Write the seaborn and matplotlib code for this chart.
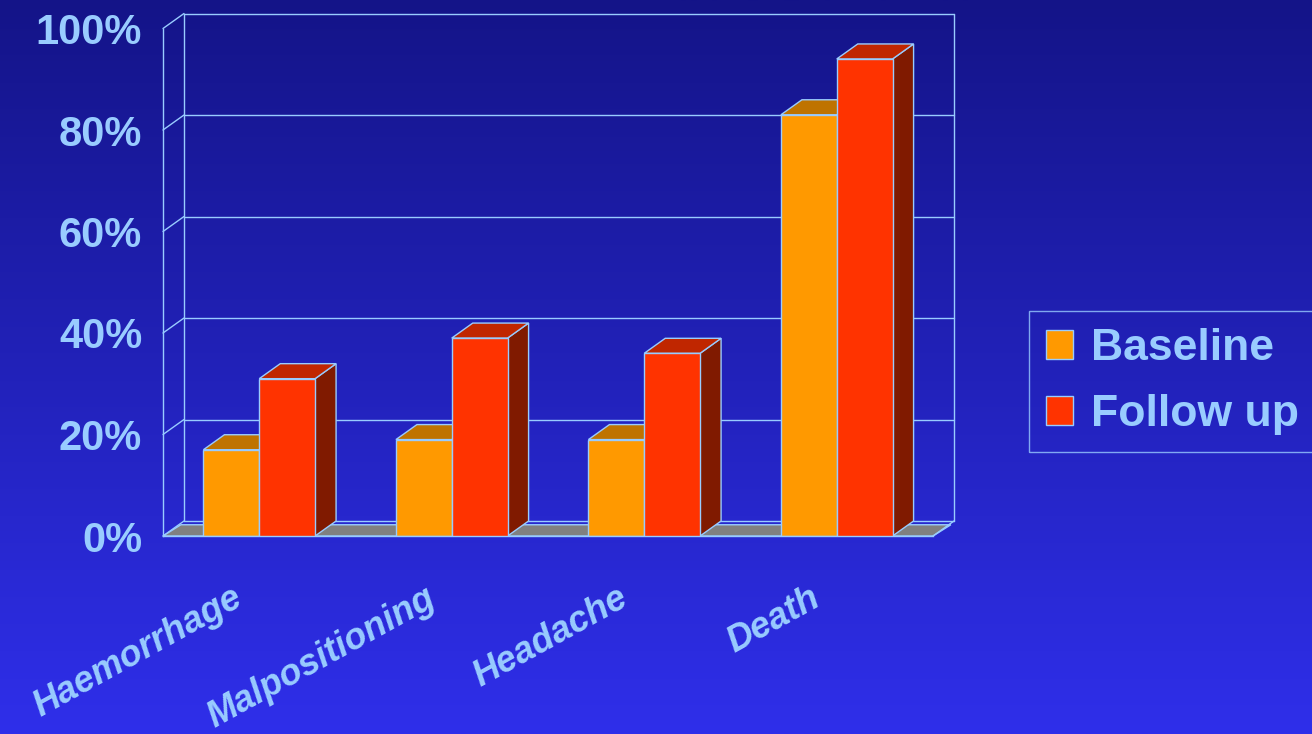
import numpy as np
import pandas as pd
import matplotlib
matplotlib.use("Agg")
import matplotlib.pyplot as plt
import matplotlib.transforms as mtransforms
from matplotlib.patches import Polygon
from matplotlib.colors import LinearSegmentedColormap
import seaborn as sns

# ---- data ----
categories = ["Haemorrhage", "Malpositioning", "Headache", "Death"]
series_names = ["Baseline", "Follow up"]
baseline = [17, 19, 19, 83]
follow_up = [31, 39, 36, 94]
y_ticks = [0, 20, 40, 60, 80, 100]
y_tick_labels = ["0%", "20%", "40%", "60%", "80%", "100%"]

# ---- style ----
sns.set_theme(style="white")
plt.rcParams["font.family"] = ["Liberation Sans", "DejaVu Sans"]
TXT = "#99CCFF"
EDGE = "#99CCFF"
front_cols = ["#FF9900", "#FF3300"]
top_cols = ["#BF7300", "#C02600"]
side_cols = ["#804D00", "#801A00"]

W, H, DPI = 1312, 734, 100
fig = plt.figure(figsize=(W / DPI, H / DPI), dpi=DPI)

# gradient background
bg = fig.add_axes([0, 0, 1, 1], zorder=-10)
cmap = LinearSegmentedColormap.from_list("bg", ["#141488", "#2F2FEA"])
grad = np.linspace(0, 1, 256).reshape(-1, 1)
bg.imshow(grad, aspect="auto", cmap=cmap, extent=[0, 1, 0, 1], origin="upper")
bg.set_axis_off()

# main axes (front plane)
L, R, T, B = 163, 933, 28.5, 536
ax = fig.add_axes([L / W, 1 - B / H, (R - L) / W, (B - T) / H])
ax.set_facecolor("none")

df = pd.DataFrame({
    "category": categories * 2,
    "value": baseline + follow_up,
    "series": [series_names[0]] * len(categories) + [series_names[1]] * len(categories),
})
sns.barplot(data=df, x="category", y="value", hue="series", hue_order=series_names,
            palette=front_cols, width=0.58, edgecolor=EDGE, linewidth=1.0,
            saturation=1, ax=ax, zorder=2)

ax.set_xlim(-0.5, len(categories) - 0.5)
ax.set_ylim(0, 100)

# depth offset in pixels -> data units
dxp, dyp = 21, 15
ax_w_px = R - L
ax_h_px = B - T
dx = dxp * (len(categories)) / ax_w_px
dy = dyp * 100 / ax_h_px

bars = [p for p in ax.patches if p.get_height() > 0]
n = len(categories)
for i, p in enumerate(bars):
    s = 0 if i < n else 1
    x0 = p.get_x()
    w = p.get_width()
    h = p.get_height()
    z = 2 + s
    p.set_zorder(z + 0.1)
    top = Polygon([[x0, h], [x0 + w, h], [x0 + w + dx, h + dy], [x0 + dx, h + dy]],
                  closed=True, facecolor=top_cols[s], edgecolor=EDGE, lw=1.0, zorder=z)
    side = Polygon([[x0 + w, 0], [x0 + w + dx, dy], [x0 + w + dx, h + dy], [x0 + w, h]],
                   closed=True, facecolor=side_cols[s], edgecolor=EDGE, lw=1.0, zorder=z)
    ax.add_patch(side)
    ax.add_patch(top)

x_l, x_r = -0.5, n - 0.5
# floor
floor = Polygon([[x_l, 0], [x_r, 0], [x_r + dx * 0.85, dy * 0.75], [x_l + dx * 0.85, dy * 0.75]],
                closed=True, facecolor="#808080", edgecolor=EDGE, lw=1.0, zorder=1, clip_on=False)
ax.add_patch(floor)

# back wall gridlines and left wall diagonals
for yv in y_ticks:
    ax.plot([x_l + dx, x_r + dx], [yv + dy, yv + dy], color=EDGE, lw=1.0, zorder=0.5, clip_on=False)
    ax.plot([x_l, x_l + dx], [yv, yv + dy], color=EDGE, lw=1.0, zorder=0.5, clip_on=False)
ax.plot([x_l + dx, x_l + dx], [dy, 100 + dy], color=EDGE, lw=1.0, zorder=0.5, clip_on=False)
ax.plot([x_r + dx, x_r + dx], [dy, 100 + dy], color=EDGE, lw=1.0, zorder=0.5, clip_on=False)
ax.plot([x_r, x_r + dx], [0, dy], color=EDGE, lw=1.0, zorder=1.2, clip_on=False)

# spines
for k in ["top", "right"]:
    ax.spines[k].set_visible(False)
for k in ["left", "bottom"]:
    ax.spines[k].set_color(EDGE)
    ax.spines[k].set_linewidth(1.0)

ax.set_yticks(y_ticks)
ax.set_yticklabels(y_tick_labels)
ax.tick_params(axis="y", direction="out", length=8, width=1, color=EDGE, pad=7,
               labelsize=30, labelcolor=TXT)
for lab in ax.get_yticklabels():
    lab.set_fontweight("bold")

ax.set_xticks(np.arange(n + 1) - 0.5)
ax.set_xticklabels([])
ax.tick_params(axis="x", direction="out", length=9, width=1, color=EDGE)
ax.set_xlabel("")
ax.set_ylabel("")

# category labels
off = mtransforms.ScaledTranslation(-19 / DPI, -60 / DPI, fig.dpi_scale_trans)
tr = mtransforms.blended_transform_factory(ax.transData, ax.transAxes) + off
for i, c in enumerate(categories):
    ax.text(i, 0, c, transform=tr, rotation=29, rotation_mode="anchor",
            ha="right", va="center", fontsize=26, fontweight="bold",
            fontstyle="italic", color=TXT, clip_on=False)

# legend
sns.move_legend(ax, "upper left", bbox_to_anchor=(1029 / W, 1 - 311 / H),
                bbox_transform=fig.transFigure, title=None, frameon=True,
                fontsize=32, handlelength=0.62, handleheight=0.62,
                handletextpad=0.4, borderpad=0.38, labelspacing=0.56,
                borderaxespad=0, fancybox=False)
leg = ax.get_legend()
leg.get_frame().set_facecolor("none")
leg.get_frame().set_edgecolor(EDGE)
leg.get_frame().set_linewidth(1.0)
for t in leg.get_texts():
    t.set_color(TXT)
    t.set_fontweight("bold")

fig.savefig("out.png", dpi=DPI)
